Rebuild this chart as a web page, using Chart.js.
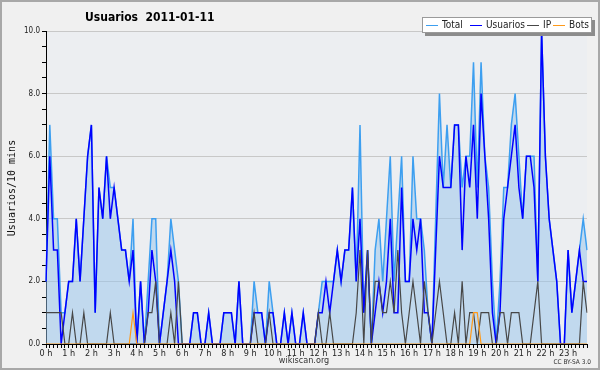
<!DOCTYPE html>
<html>
<head>
<meta charset="utf-8">
<title>Usuarios 2011-01-11</title>
<script src="https://cdn.jsdelivr.net/npm/chart.js@4.4.1/dist/chart.umd.min.js"></script>
<style>
    html, body { margin: 0; padding: 0; background: #f0f0f0; }
    canvas { display: block; }
</style>
</head>
<body>
<canvas id="UsersChart" width="600" height="370"></canvas>
<script>

// ---------------- Data (one value every 10 minutes) ----------------
const hourLabels = ["0 h", "1 h", "2 h", "3 h", "4 h", "5 h", "6 h", "7 h", "8 h", "9 h", "10 h", "11 h",
    "12 h", "13 h", "14 h", "15 h", "16 h", "17 h", "18 h", "19 h", "20 h", "21 h", "22 h", "23 h"];

const totalData = [
    2, 7, 4, 4, 1, 1, 2, 2, 4, 2,   4, 6, 7, 1, 5, 4, 6, 5, 5, 4,
    3, 3, 2, 4, 0, 2, 0, 2, 4, 4,   0, 1, 2, 4, 3, 2, 0, 0, 0, 1,
    1, 0, 0, 1, 0, 0, 0, 1, 1, 1,   0, 2, 0, 0, 0, 2, 1, 1, 0, 2,
    1, 0, 0, 1, 0, 1, 0, 0, 1, 0,   0, 0, 1, 2, 2, 2, 2, 3, 2, 3,
    3, 5, 2, 7, 1, 3, 0, 3, 4, 2,   4, 6, 2, 4, 6, 2, 2, 6, 4, 4,
    3, 1, 0, 4, 8, 5, 7, 5, 7, 7,   5, 6, 6, 9, 5, 9, 6, 5, 2, 0,
    2, 5, 5, 7, 8, 6, 4, 6, 6, 6,   2, 10, 6, 4, 3, 2, 0, 0, 3, 1,
    2, 3, 4, 3
];

const usuariosData = [
    2, 6, 3, 3, 0, 1, 2, 2, 4, 2,   4, 6, 7, 1, 5, 4, 6, 4, 5, 4,
    3, 3, 2, 3, 0, 2, 0, 1, 3, 2,   0, 1, 2, 3, 2, 0, 0, 0, 0, 1,
    1, 0, 0, 1, 0, 0, 0, 1, 1, 1,   0, 2, 0, 0, 0, 1, 1, 1, 0, 1,
    1, 0, 0, 1, 0, 1, 0, 0, 1, 0,   0, 0, 1, 1, 2, 1, 2, 3, 2, 3,
    3, 5, 2, 4, 1, 3, 0, 1, 2, 1,   2, 4, 1, 1, 5, 2, 2, 4, 3, 4,
    1, 1, 0, 3, 6, 5, 5, 5, 7, 7,   3, 6, 5, 7, 4, 8, 6, 4, 1, 0,
    1, 4, 5, 6, 7, 5, 4, 6, 6, 5,   2, 10, 6, 4, 3, 2, 0, 0, 3, 1,
    2, 3, 2, 2
];

const ipData = [
    1, 1, 1, 1, 1, 0, 0, 1, 0, 0,   1, 0, 0, 0, 0, 0, 0, 1, 0, 0,
    0, 0, 0, 0, 0, 0, 0, 1, 1, 2,   0, 0, 0, 1, 0, 2, 0, 0, 0, 0,
    0, 0, 0, 0, 0, 0, 0, 0, 0, 0,   0, 0, 0, 0, 0, 1, 0, 0, 0, 1,
    0, 0, 0, 0, 0, 0, 0, 0, 0, 0,   0, 0, 1, 0, 0, 1, 0, 0, 0, 0,
    0, 0, 1, 3, 0, 3, 0, 2, 2, 1,   1, 2, 1, 3, 1, 0, 1, 2, 1, 0,
    2, 1, 0, 1, 2, 1, 0, 0, 1, 0,   2, 0, 1, 1, 0, 1, 1, 1, 0, 0,
    1, 1, 0, 1, 1, 1, 0, 0, 0, 1,   2, 0, 0, 0, 0, 0, 0, 0, 0, 0,
    0, 0, 2, 1
];

const botsData = [
    0, 0, 0, 0, 0, 0, 0, 0, 0, 0,   0, 0, 0, 0, 0, 0, 0, 0, 0, 0,
    0, 0, 0, 1, 0, 0, 0, 0, 0, 0,   0, 0, 0, 0, 0, 0, 0, 0, 0, 0,
    0, 0, 0, 0, 0, 0, 0, 0, 0, 0,   0, 0, 0, 0, 0, 0, 0, 0, 0, 0,
    0, 0, 0, 0, 0, 0, 0, 0, 0, 0,   0, 0, 0, 0, 0, 0, 0, 0, 0, 0,
    0, 0, 0, 0, 0, 0, 0, 0, 0, 0,   0, 0, 0, 0, 0, 0, 0, 0, 0, 0,
    0, 0, 0, 0, 0, 0, 0, 0, 0, 0,   0, 0, 0, 1, 1, 0, 0, 0, 0, 0,
    0, 0, 0, 0, 0, 0, 0, 0, 0, 0,   0, 0, 0, 0, 0, 0, 0, 0, 0, 0,
    0, 0, 0, 0
];

const seriesNames = ["Total", "Usuarios", "IP", "Bots"];
const seriesColors = ["#3d9ff0", "#0000ff", "#474747", "#ff9a1a"];

const chartTitle = "Usuarios  2011-01-11";
const yTitle = "Usuarios/10 mins";
const footerText = "wikiscan.org";
const licenceText = "CC BY-SA 3.0";

// one category per 10 minutes, labelled only on the hour
const slots = [];
hourLabels.forEach(h => {
    for (let m = 0; m < 6; m++) slots.push(m === 0 ? h : "");
});

const SANS = '"DejaVu Sans Condensed", "DejaVu Sans", sans-serif';


// ---------------- Frame, title, legend, footer ----------------
const framePlugin = {
    id: "frame",
    beforeDraw(chart) {
        const ctx = chart.ctx;
        const a = chart.chartArea;
        ctx.save();
        ctx.fillStyle = "#f0f0f0";
        ctx.fillRect(0, 0, chart.width, chart.height);
        ctx.fillStyle = "#eceef1";
        ctx.fillRect(a.left, a.top, a.right - a.left, a.bottom - a.top);
        ctx.restore();
    },
    afterDraw(chart) {
        const ctx = chart.ctx;
        ctx.save();

        // outer border
        ctx.strokeStyle = "#a8a8a8";
        ctx.lineWidth = 2;
        ctx.strokeRect(1, 1, chart.width - 2, chart.height - 2);

        // title
        ctx.fillStyle = "#000";
        ctx.font = "bold 12px " + SANS;
        ctx.textBaseline = "alphabetic";
        ctx.textAlign = "left";
        ctx.fillText(chartTitle, 85, 21);

        // y axis title
        ctx.save();
        ctx.translate(12, 188);
        ctx.rotate(-Math.PI / 2);
        ctx.font = "10px \"DejaVu Sans Mono\", monospace";
        ctx.textAlign = "center";
        ctx.textBaseline = "middle";
        ctx.fillStyle = "#111";
        ctx.fillText(yTitle, 0, 0);
        ctx.restore();

        // legend box with shadow
        ctx.fillStyle = "#8c8c8c";
        ctx.fillRect(425, 20, 170, 16);
        ctx.fillStyle = "#ffffff";
        ctx.fillRect(422, 17, 170, 16);
        ctx.strokeStyle = "#9a9a9a";
        ctx.lineWidth = 1;
        ctx.strokeRect(422.5, 17.5, 169, 15);

        const itemX = [426, 470, 527, 553];
        ctx.font = "10px " + SANS;
        ctx.textBaseline = "middle";
        ctx.textAlign = "left";
        seriesNames.forEach((name, i) => {
            ctx.strokeStyle = seriesColors[i];
            ctx.lineWidth = 1;
            ctx.beginPath();
            ctx.moveTo(itemX[i], 25.5);
            ctx.lineTo(itemX[i] + 12, 25.5);
            ctx.stroke();
            ctx.fillStyle = "#222";
            ctx.fillText(name, itemX[i] + 16, 25.5);
        });

        // footer
        ctx.fillStyle = "#333";
        ctx.font = "9px " + SANS;
        ctx.textAlign = "center";
        ctx.textBaseline = "middle";
        ctx.fillText(footerText, 304, 361);
        ctx.font = "6.5px " + SANS;
        ctx.textAlign = "right";
        ctx.fillText(licenceText, 591, 362);

        ctx.restore();
    }
};


// ---------------- Chart ----------------
function makeDataset(index, data, extra) {
    return Object.assign({
        label: seriesNames[index],
        data: data,
        borderColor: seriesColors[index],
        borderWidth: 1.5,
        pointRadius: 0,
        tension: 0,
        fill: false
    }, extra);
}

const canvas = document.getElementById("UsersChart");

new Chart(canvas.getContext("2d"), {
    type: "line",
    data: {
        labels: slots,
        datasets: [
            makeDataset(0, totalData, { fill: "origin", backgroundColor: "rgba(150, 195, 235, 0.5)", order: 4 }),
            makeDataset(1, usuariosData, { order: 3 }),
            makeDataset(2, ipData, { borderWidth: 1.2, order: 2 }),
            makeDataset(3, botsData, { borderWidth: 1.2, order: 1 })
        ]
    },
    options: {
        responsive: false,
        animation: false,
        devicePixelRatio: 1,
        layout: { padding: { top: 31, right: 13, bottom: 0, left: 0 } },
        plugins: {
            legend: { display: false },
            title: { display: false },
            tooltip: { enabled: false }
        },
        scales: {
            x: {
                type: "category",
                offset: false,
                border: { color: "#000", width: 1 },
                grid: { drawOnChartArea: false, tickLength: 4, tickColor: "#000" },
                ticks: {
                    autoSkip: false,
                    maxRotation: 0,
                    minRotation: 0,
                    padding: 0,
                    color: "#222",
                    font: { family: SANS, size: 9 },
                    callback: function(value, index) {
                        return slots[index];
                    }
                },
                afterFit: function(scale) { scale.height = 26; }
            },
            y: {
                min: 0,
                max: 10,
                border: { color: "#000", width: 1 },
                grid: {
                    tickLength: 4,
                    tickColor: "#000",
                    color: function(context) {
                        const v = context.tick.value;
                        return (v > 0 && v % 2 === 0) ? "#c8c8c8" : "rgba(0,0,0,0)";
                    }
                },
                ticks: {
                    stepSize: 0.5,
                    autoSkip: false,
                    padding: 2,
                    color: "#222",
                    font: { family: SANS, size: 8 },
                    callback: function(value) {
                        return value % 2 === 0 ? value.toFixed(1) : "";
                    }
                },
                afterFit: function(scale) { scale.width = 46; }
            }
        }
    },
    plugins: [framePlugin]
});

</script>
</body>
</html>
